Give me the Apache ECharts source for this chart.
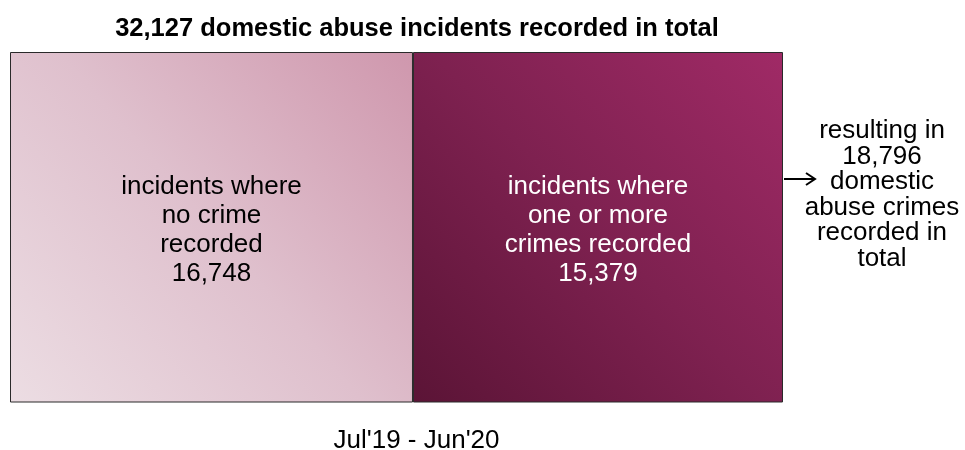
<!DOCTYPE html>
<html>
<head>
<meta charset="utf-8">
<script src="https://cdn.jsdelivr.net/npm/echarts@6/dist/echarts.min.js"></script>
<style>
html,body{margin:0;padding:0;background:#fff;}
#chart{width:965px;height:450px;}
</style>
</head>
<body>
<div id="chart"></div>
<script>
// ---- data ----
var categories = ["Jul'19 - Jun'20"];
var noCrimeValues = [16748];
var crimeValues = [15379];
var crimesRecordedTotal = [18796];
var seriesNames = ["incidents where\nno crime\nrecorded", "incidents where\none or more\ncrimes recorded"];

function fmt(n){ return n.toLocaleString('en-GB'); }
var totalIncidents = noCrimeValues[0] + crimeValues[0];

var chart = echarts.init(document.getElementById('chart'), null, {renderer:'canvas'});
var FONT = '"Liberation Sans", Arial, sans-serif';

var option = {
  animation: false,
  backgroundColor: '#fff',
  title: {
    text: fmt(totalIncidents) + ' domestic abuse incidents recorded in total',
    left: 412, top: 11, textAlign: 'center',
    textStyle: {fontFamily: FONT, fontSize: 25.5, fontWeight: 'bold', color: '#000'}
  },
  grid: {left: 10, right: 182, top: 52, bottom: 47.5, containLabel: false, outerBoundsMode: 'none'},
  xAxis: {
    type: 'value', min: 0, max: totalIncidents,
    axisLine: {show: false}, axisTick: {show: false}, axisLabel: {show: false}, splitLine: {show: false},
    name: categories[0], nameLocation: 'middle', nameGap: 25,
    nameTextStyle: {fontFamily: FONT, fontSize: 26, color: '#000', padding: [0,0,0,40]}
  },
  yAxis: {type: 'category', data: categories, show: false},
  series: [
    {
      name: seriesNames[0], type: 'bar', stack: 'total', barWidth: '100%',
      data: noCrimeValues,
      itemStyle: {
        borderColor: '#2a2a2a', borderWidth: 1,
        color: new echarts.graphic.LinearGradient(0, 1, 1, 0, [
          {offset: 0, color: '#ecdde3'},
          {offset: 0.5, color: '#dfc0cd'},
          {offset: 1, color: '#cf97ad'}
        ])
      },
      label: {
        show: true, position: 'inside', offset: [0, 3], fontFamily: FONT, fontSize: 26, lineHeight: 29, color: '#000',
        formatter: function(p){ return seriesNames[0] + '\n' + fmt(p.value); }
      }
    },
    {
      name: seriesNames[1], type: 'bar', stack: 'total', barWidth: '100%',
      data: crimeValues,
      itemStyle: {
        borderColor: '#2a2a2a', borderWidth: 1,
        color: new echarts.graphic.LinearGradient(0, 1, 1, 0, [
          {offset: 0, color: '#5b1436'},
          {offset: 0.5, color: '#7e2150'},
          {offset: 1, color: '#a02a66'}
        ])
      },
      label: {
        show: true, position: 'inside', offset: [0, 3], fontFamily: FONT, fontSize: 26, lineHeight: 29, color: '#fff',
        formatter: function(p){ return seriesNames[1] + '\n' + fmt(p.value); }
      }
    }
  ]
};
chart.setOption(option);

// annotation: arrow + text to the right of the bar
var gridRight = chart.convertToPixel({xAxisIndex: 0}, totalIncidents);
var arrowY = 179;
chart.setOption({
  graphic: [
    {
      type: 'line', shape: {x1: gridRight + 1, y1: arrowY, x2: gridRight + 31, y2: arrowY},
      style: {stroke: '#000', lineWidth: 2}
    },
    {
      type: 'polyline', shape: {points: [[gridRight + 23, arrowY - 6], [gridRight + 32, arrowY], [gridRight + 23, arrowY + 6]]},
      style: {stroke: '#000', lineWidth: 2, fill: null}
    },
    {
      type: 'text', left: gridRight + 19, top: 118,
      style: {
        text: 'resulting in\n' + fmt(crimesRecordedTotal[0]) + '\ndomestic\nabuse crimes\nrecorded in\ntotal',
        font: '26px ' + FONT, fill: '#000', textAlign: 'center', lineHeight: 25.5, width: 160
      }
    }
  ]
});
</script>
</body>
</html>
